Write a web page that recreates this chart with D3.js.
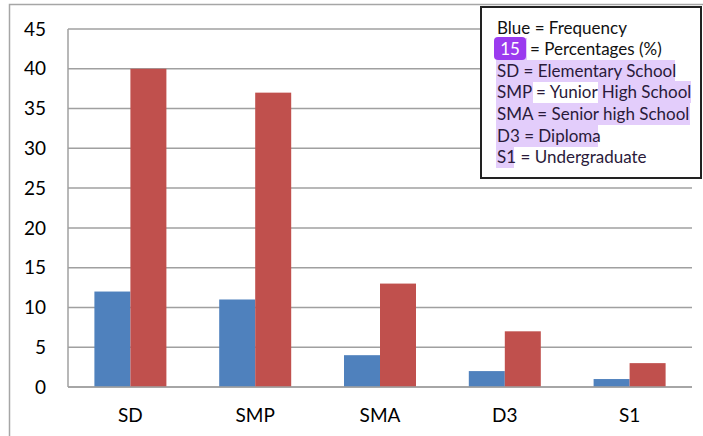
<!doctype html>
<html lang="en">
<head>
<meta charset="UTF-8">
<title>Education level chart</title>
<script src="https://cdn.jsdelivr.net/npm/d3@7"></script>
<style>
body { margin: 0; background: #fff; }
svg text { font-family: Lato, "Noto Sans", sans-serif; }
</style>
</head>
<body>
<script>
var categories = ['SD', 'SMP', 'SMA', 'D3', 'S1'];
var frequency = [12, 11, 4, 2, 1];
var percentages = [40, 37, 13, 7, 3];
var yTicks = [0, 5, 10, 15, 20, 25, 30, 35, 40, 45];
var legendLines = [
  'Blue = Frequency',
  'Red = Percentages (%)',
  'SD = Elementary School',
  'SMP = Yunior High School',
  'SMA = Senior high School',
  'D3 = Diploma',
  'S1 = Undergraduate'
];

var w = 703, h = 436;
// note: "top" is reserved on window, so use plot* names
var plotLeft = 68, plotRight = 692, plotTop = 29, plotBottom = 387;

var svg = d3.select('body').append('svg')
  .attr('width', w)
  .attr('height', h);

// outer frame (top and left edges only are visible)
svg.append('path')
  .attr('d', 'M9.5,' + h + 'V4.5H' + w)
  .attr('fill', 'none')
  .attr('stroke', '#a6a6a6')
  .attr('stroke-width', 1.5);

var x0 = d3.scaleBand().domain(categories).range([plotLeft, plotRight]).padding(0);
var x1 = d3.scaleBand().domain(['freq', 'pct']).range([0, 72]);
var y = d3.scaleLinear().domain([0, 45]).range([plotBottom, plotTop]);

// grid lines
svg.append('g')
  .selectAll('line')
  .data(yTicks)
  .enter()
  .append('line')
  .attr('x1', plotLeft)
  .attr('x2', plotRight)
  .attr('y1', function(d){ return y(d); })
  .attr('y2', function(d){ return y(d); })
  .attr('stroke', '#a0a0a0')
  .attr('stroke-width', 1.5);

// y axis line
svg.append('line')
  .attr('x1', plotLeft).attr('x2', plotLeft)
  .attr('y1', plotTop).attr('y2', plotBottom)
  .attr('stroke', '#a0a0a0')
  .attr('stroke-width', 1.5);

// y tick labels
svg.append('g')
  .selectAll('text')
  .data(yTicks)
  .enter()
  .append('text')
  .attr('x', 46)
  .attr('y', function(d){ return y(d); })
  .attr('dy', '0.35em')
  .attr('text-anchor', 'end')
  .attr('font-size', '19px')
  .attr('fill', '#000')
  .text(function(d){ return d; });

// bars
var groups = svg.append('g')
  .selectAll('g')
  .data(categories)
  .enter()
  .append('g')
  .attr('transform', function(d){
    return 'translate(' + (x0(d) + (x0.bandwidth() - 72) / 2) + ',0)';
  });

groups.append('rect')
  .attr('x', x1('freq'))
  .attr('width', x1.bandwidth())
  .attr('y', function(d, i){ return y(frequency[i]); })
  .attr('height', function(d, i){ return plotBottom - y(frequency[i]); })
  .attr('fill', '#4f81bd');

groups.append('rect')
  .attr('x', x1('pct'))
  .attr('width', x1.bandwidth())
  .attr('y', function(d, i){ return y(percentages[i]); })
  .attr('height', function(d, i){ return plotBottom - y(percentages[i]); })
  .attr('fill', '#c0504d');

// baseline over bars
svg.append('line')
  .attr('x1', plotLeft).attr('x2', plotRight)
  .attr('y1', plotBottom).attr('y2', plotBottom)
  .attr('stroke', '#a0a0a0')
  .attr('stroke-width', 1.5);

// category labels
svg.append('g')
  .selectAll('text')
  .data(categories)
  .enter()
  .append('text')
  .attr('x', function(d){ return x0(d) + x0.bandwidth() / 2; })
  .attr('y', 422)
  .attr('text-anchor', 'middle')
  .attr('font-size', '19px')
  .attr('fill', '#000')
  .text(function(d){ return d; });

// legend box
var lg = svg.append('g');
lg.append('rect')
  .attr('x', 481).attr('y', 7)
  .attr('width', 220).attr('height', 171)
  .attr('fill', '#fff')
  .attr('stroke', '#222')
  .attr('stroke-width', 2);

var lineY = [28, 49, 71, 92, 114, 136, 157];
var hl = '#e3cdfb';

// selection highlights (x start, x end, line index)
var highlights = [
  [511, 527, 1],
  [496, 675, 2],
  [496, 533, 3],
  [598, 691, 3],
  [496, 690, 4],
  [496, 598, 5],
  [496, 514, 6]
];
lg.selectAll('rect.hl')
  .data(highlights)
  .enter()
  .append('rect')
  .attr('class', 'hl')
  .attr('x', function(d){ return d[0]; })
  .attr('width', function(d){ return d[1] - d[0]; })
  .attr('y', function(d){ return lineY[d[2]] - 11; })
  .attr('height', 22)
  .attr('fill', hl);

lg.selectAll('text.lt')
  .data(legendLines)
  .enter()
  .append('text')
  .attr('class', 'lt')
  .attr('x', 497)
  .attr('y', function(d, i){ return lineY[i]; })
  .attr('dy', '0.35em')
  .attr('font-size', '17px')
  .attr('fill', function(d, i){ return i >= 2 ? '#2a1a3a' : '#111'; })
  .text(function(d){ return d; });

// purple badge covering "Red"
lg.append('rect')
  .attr('x', 494).attr('y', 37)
  .attr('width', 32).attr('height', 23)
  .attr('rx', 4)
  .attr('fill', '#9b3bef');
lg.append('text')
  .attr('x', 510).attr('y', 49)
  .attr('dy', '0.35em')
  .attr('text-anchor', 'middle')
  .attr('font-size', '17px')
  .attr('fill', '#fff')
  .text('15');
</script>
</body>
</html>
